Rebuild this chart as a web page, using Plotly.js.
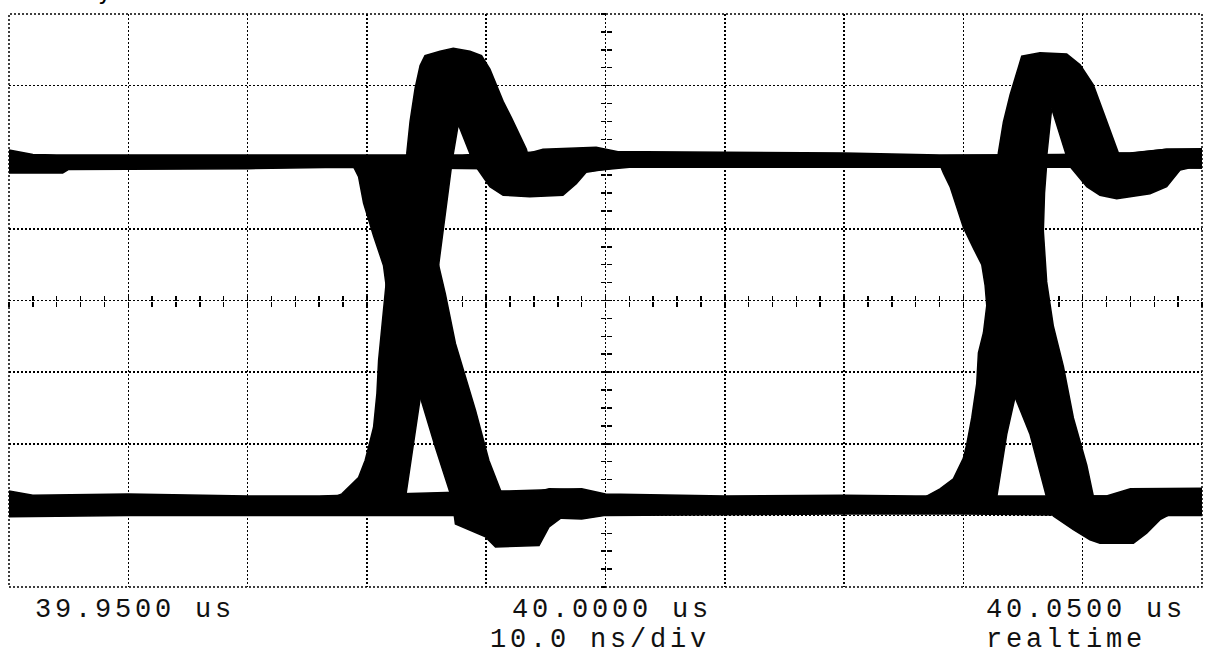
<!DOCTYPE html>
<html>
<head>
<meta charset="utf-8">
<script src="https://cdn.plot.ly/plotly-3.0.1.min.js"></script>
<style>
  html, body { margin: 0; padding: 0; background: #fff; }
  #chart { width: 1206px; height: 654px; }
  text.annotation-text { letter-spacing: 3.8px; }
</style>
</head>
<body>
<div id="chart"></div>
<script>
// ---- axis / label data (time in ns relative to 40.0000 us, amplitude in divisions) ----
const timeRange = [-50, 50];
const voltRange = [-4, 4];
const timeTicks = [-50, 0, 50];
const timeLabels = ['39.9500 us', '40.0000 us', '40.0500 us'];
const infoTicks = [0, 50];
const infoLabels = ['10.0 ns/div', 'realtime'];

// ---- high level band (top edge left->right, bottom edge right->left) ----
const highTopT = [-50, -48, -46, -30, -22, -12, -2, 0, 10, 20, 28, 38, 44, 47, 50];
const highTopV = [2.10, 2.04, 2.03, 2.03, 2.02, 2.03, 2.10, 2.08, 2.07, 2.06, 2.03, 2.04, 2.06, 2.11, 2.12];
const highBotT = [50, 40, 28, 20, 12, 2, 0, -2, -10, -22, -30, -45, -45.5, -50];
const highBotV = [1.85, 1.86, 1.86, 1.87, 1.86, 1.86, 1.83, 1.80, 1.84, 1.86, 1.84, 1.83, 1.78, 1.78];

// ---- low level band ----
const lowTopT = [-50, -48, -40, -30, -24, -2, 0, 10, 20, 26, 42, 44, 50];
const lowTopV = [-2.66, -2.72, -2.70, -2.73, -2.73, -2.63, -2.70, -2.73, -2.72, -2.73, -2.73, -2.63, -2.62];
const lowBotT = [50, 40, 30, 20, 10, 0, -2, -10, -30, -40, -50];
const lowBotV = [-3.00, -3.00, -2.98, -2.98, -2.99, -3.00, -3.05, -3.00, -3.00, -3.00, -3.02];

// ---- first transition: falling edge + undershoot ----
const fall1T = [-21.9, -21.1, -20.7, -20.28, -19.44, -18.61, -18.3, -17.2, -16.3, -15.52, -14.26, -12.86,
  -12.58, -10.06, -9.22, -5.57, -4.73, -3.61, -2.0, -2.0, -4.73, -6.41, -7.53, -8.52,
  -9.78, -10.9, -11.74, -12.58, -13.42, -14.0, -14.3, -14.4, -14.6];
const fall1V = [2.0, 1.86, 1.73, 1.36, 0.90, 0.49, 0.10, -0.50, -1.00, -1.35, -2.05, -2.77,
  -3.12, -3.30, -3.44, -3.42, -3.16, -3.02, -2.98, -2.64, -2.63, -2.70, -2.77, -2.77,
  -2.23, -1.53, -1.07, -0.60, 0.09, 0.50, 1.00, 1.50, 2.00];

// ---- first transition: rising edge + overshoot ----
const rise1T = [-23.5, -22.1, -20.7, -20.14, -19.44, -19.16, -19.02, -18.74, -18.46, -18.2, -17.7, -17.2,
  -16.66, -16.38, -15.96, -15.54, -15.13, -13.87, -12.76, -11.36, -10.39, -9.69, -9.14, -8.58,
  -7.88, -7.19, -6.63, -6.4, -11.2, -11.36, -12.34, -12.81, -13.2, -13.6, -14.0, -14.5,
  -15.0, -15.52, -16.08, -16.78, -17.0];
const rise1V = [-2.80, -2.70, -2.47, -2.23, -1.77, -1.30, -0.84, -0.37, 0.09, 0.56, 1.00, 1.50,
  2.05, 2.50, 2.96, 3.28, 3.42, 3.48, 3.52, 3.48, 3.42, 3.23, 3.00, 2.78,
  2.55, 2.32, 2.11, 1.95, 1.95, 2.05, 2.46, 2.00, 1.50, 1.00, 0.50, -0.20,
  -0.80, -1.35, -2.00, -2.77, -2.80];

// ---- first transition: ringing dip below high level ----
const dip1T = [-11.0, -6.6, -5.24, -0.78, 1.0, 1.0, -1.62, -2.45, -3.57, -6.35, -8.58, -9.69, -10.53, -11.0];
const dip1V = [2.00, 2.05, 2.11, 2.14, 2.08, 1.86, 1.79, 1.63, 1.47, 1.45, 1.47, 1.59, 1.79, 1.90];

// ---- second transition: falling edge + undershoot ----
const fall2T = [27.9, 28.32, 28.88, 29.44, 30.0, 30.84, 31.54, 31.82, 31.96, 32.6, 33.5, 34.33, 35.59, 36.98,
  37.54, 39.22, 40.61, 41.45, 44.25, 45.36, 46.48, 47.6, 47.6, 44.25, 42.85, 40.89,
  40.34, 39.22, 38.38, 37.54, 36.98, 36.70, 36.8, 37.0];
const fall2V = [1.95, 1.78, 1.59, 1.30, 1.02, 0.73, 0.50, 0.21, -0.07, -0.45, -0.92, -1.35, -1.87, -2.75,
  -3.01, -3.20, -3.34, -3.39, -3.39, -3.25, -3.06, -2.96, -2.65, -2.63, -2.73, -2.73,
  -2.30, -1.64, -0.92, -0.36, 0.26, 0.97, 1.50, 1.95];

// ---- second transition: rising edge + overshoot ----
const rise2T = [26.5, 26.93, 28.04, 29.16, 30.0, 30.28, 30.70, 31.12, 31.26, 31.68, 31.96, 32.2, 32.5,
  32.93, 33.35, 33.91, 34.47, 34.89, 36.42, 38.66, 39.78, 40.89, 41.73, 42.57, 42.99, 43.1,
  38.8, 38.66, 37.40, 36.98, 36.5, 35.8, 35.1, 34.33, 33.63, 32.79, 32.5];
const rise2V = [-2.80, -2.73, -2.63, -2.49, -2.20, -2.01, -1.64, -1.16, -0.73, -0.45, -0.07, 0.50, 1.20,
  2.06, 2.49, 2.87, 3.20, 3.41, 3.46, 3.44, 3.29, 3.01, 2.63, 2.25, 2.06, 1.95,
  1.95, 2.01, 2.68, 2.01, 1.20, 0.20, -0.60, -1.35, -1.87, -2.75, -2.80];

// ---- second transition: ringing dip below high level ----
const dip2T = [38.8, 42.99, 44.25, 47.04, 50, 50, 48.9, 48.16, 47.04, 45.64, 42.85, 41.45, 40.34, 39.22, 38.8];
const dip2V = [2.00, 2.06, 2.06, 2.11, 2.11, 1.85, 1.85, 1.82, 1.59, 1.49, 1.42, 1.47, 1.59, 1.82, 1.90];

// fragment of a cut-off caption at the very top
const topFragment = {t: -41.8, text: 'y'};

function band(xs, ys) {
  return {
    type: 'scatter', mode: 'lines', x: xs, y: ys,
    fill: 'toself', fillcolor: '#000',
    line: {color: '#000', width: 1.5},
    hoverinfo: 'skip', showlegend: false
  };
}

const traces = [
  band(highTopT.concat(highBotT), highTopV.concat(highBotV)),
  band(lowTopT.concat(lowBotT), lowTopV.concat(lowBotV)),
  band(fall1T, fall1V),
  band(rise1T, rise1V),
  band(dip1T, dip1V),
  band(fall2T, fall2V),
  band(rise2T, rise2V),
  band(dip2T, dip2V),
  {type: 'scatter', x: [], y: [], xaxis: 'x2', yaxis: 'y2', showlegend: false, hoverinfo: 'skip'},
  {type: 'scatter', x: [], y: [], xaxis: 'x3', yaxis: 'y3', showlegend: false, hoverinfo: 'skip'}
];

const labelFont = {family: 'Liberation Mono', size: 27, color: '#111'};
const annotations = [];
const row1Shift = [24, -96, -218];
timeTicks.forEach((t, i) => {
  annotations.push({
    x: t, xref: 'x', y: 0, yref: 'paper',
    xanchor: 'left', yanchor: 'middle', xshift: row1Shift[i], yshift: -23,
    text: timeLabels[i], showarrow: false, font: labelFont
  });
});
const row2Shift = [-118, -218];
infoTicks.forEach((t, i) => {
  annotations.push({
    x: t, xref: 'x', y: 0, yref: 'paper',
    xanchor: 'left', yanchor: 'middle', xshift: row2Shift[i], yshift: -53,
    text: infoLabels[i], showarrow: false, font: labelFont
  });
});
annotations.push({
  x: topFragment.t, xref: 'x', y: 1, yref: 'paper',
  xanchor: 'center', yanchor: 'bottom', yshift: 7,
  text: topFragment.text, showarrow: false,
  font: {family: 'DejaVu Sans', size: 24, color: '#000'}
});

const grid = {color: '#000', dash: '2px,2px'};
const centerTick = {
  anchor: 'free', position: 0.5, showgrid: false, zeroline: false, showline: false,
  showticklabels: false, ticklen: 5, tickwidth: 1.5, tickcolor: '#000', fixedrange: true
};

const layout = {
  width: 1206, height: 654,
  margin: {l: 9, r: 4, t: 14, b: 67, pad: 0},
  paper_bgcolor: '#fff', plot_bgcolor: '#fff',
  showlegend: false,
  xaxis: {
    range: timeRange, tick0: 0, dtick: 10, showgrid: true, gridcolor: grid.color,
    griddash: grid.dash, gridwidth: 1.5, zeroline: false, showline: false,
    showticklabels: false, ticks: '', fixedrange: true
  },
  yaxis: {
    range: voltRange, tick0: 0, dtick: 1, showgrid: true, gridcolor: grid.color,
    griddash: grid.dash, gridwidth: 1.5, zeroline: false, showline: false,
    showticklabels: false, ticks: '', fixedrange: true
  },
  xaxis2: Object.assign({}, centerTick, {overlaying: 'x', range: timeRange, tick0: 0, dtick: 2, ticks: 'outside', side: 'bottom'}),
  xaxis3: Object.assign({}, centerTick, {overlaying: 'x', range: timeRange, tick0: 0, dtick: 2, ticks: 'inside', side: 'bottom'}),
  yaxis2: Object.assign({}, centerTick, {overlaying: 'y', range: voltRange, tick0: 0, dtick: 0.25, ticks: 'outside', side: 'left'}),
  yaxis3: Object.assign({}, centerTick, {overlaying: 'y', range: voltRange, tick0: 0, dtick: 0.25, ticks: 'inside', side: 'left'}),
  shapes: [{
    type: 'rect', xref: 'paper', yref: 'paper', x0: 0, y0: 0, x1: 1, y1: 1,
    line: {color: '#000', width: 1.5, dash: '2px,2px'}, layer: 'below'
  }],
  annotations: annotations
};

Plotly.newPlot('chart', traces, layout, {displayModeBar: false, staticPlot: true});
</script>
</body>
</html>
